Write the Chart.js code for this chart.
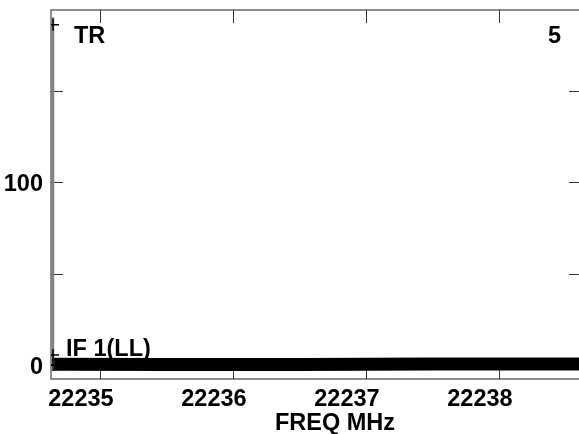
<!DOCTYPE html>
<html>
<head>
<meta charset="utf-8">
<script src="https://cdn.jsdelivr.net/npm/chart.js@4/dist/chart.umd.min.js"></script>
<style>
  body { margin: 0; overflow: hidden; background: #fff; }
  #wrap { position: relative; width: 600px; height: 434px; }
</style>
</head>
<body>
<div id="wrap"><canvas id="spec"></canvas></div>
<script>
// frequency axis (MHz) and level axis
var xTicks = [22235, 22236, 22237, 22238];
var yTicks = [0, 100];
var yMinorTicks = [0, 50, 100, 150];
var xRange = [22234.632, 22238.617];
var yRange = [-7.6, 194];

// noisy baseline, drawn as a heavy trace
var bandFreq = [22234.652, 22235.5, 22236.5, 22237.5, 22238.617];
var bandLevel = [0.4, 0.3, 0.3, 0.6, 0.6];

// spike at the start of the band
var spikeFreq = [22234.647, 22234.647];
var spikeLevel = [0, 190];

// marker crosses
var markFreq = [22234.647, 22234.647, 22234.647];
var markLevel = [186, 5.5, 0];

var FONT = "'Liberation Sans', Arial, sans-serif";
var FSIZE = 23.5;

function pts(xs, ys) {
    var out = [];
    for (var i = 0; i < xs.length; i++) out.push({ x: xs[i], y: ys[i] });
    return out;
}

var framePlugin = {
    id: 'frame',
    beforeDatasetsDraw: function (chart) {
        var ctx = chart.ctx;
        var a = chart.chartArea;
        var xs = chart.scales.x;
        var ys = chart.scales.y;
        ctx.save();

        // border
        ctx.strokeStyle = '#6a6a6a';
        ctx.lineWidth = 1.5;
        ctx.beginPath();
        ctx.moveTo(a.right, a.top);
        ctx.lineTo(a.left, a.top);
        ctx.lineTo(a.left, a.bottom);
        ctx.lineTo(a.right, a.bottom);
        ctx.stroke();

        // inward tick marks
        ctx.strokeStyle = '#333';
        ctx.lineWidth = 1;
        ctx.beginPath();
        xTicks.forEach(function (v) {
            var px = Math.round(xs.getPixelForValue(v)) + 0.5;
            ctx.moveTo(px, a.top); ctx.lineTo(px, a.top + 13);
            ctx.moveTo(px, a.bottom); ctx.lineTo(px, a.bottom - 13);
        });
        yMinorTicks.forEach(function (v) {
            var py = Math.round(ys.getPixelForValue(v)) + 0.5;
            ctx.moveTo(a.left, py); ctx.lineTo(a.left + 12, py);
            ctx.moveTo(a.right, py); ctx.lineTo(a.right - 12, py);
        });
        ctx.stroke();

        // labels inside the plot
        ctx.fillStyle = '#000';
        ctx.font = 'bold ' + FSIZE + 'px ' + FONT;
        ctx.textBaseline = 'alphabetic';
        ctx.textAlign = 'left';
        ctx.fillText('TR', 74, 43);
        ctx.fillText('5', 548, 43);
        ctx.fillText('IF 1(LL)', 66, 356);

        // axis title
        ctx.textAlign = 'center';
        ctx.fillText('FREQ MHz', 335, 430);
        ctx.restore();
    }
};

var ctx = document.getElementById('spec').getContext('2d');

var chart = new Chart(ctx, {
    type: 'line',
    data: {
        datasets: [{
            label: 'markers',
            data: pts(markFreq, markLevel),
            showLine: false,
            pointStyle: 'cross',
            pointRadius: 6,
            borderColor: '#000',
            borderWidth: 1.5,
            order: 0
        }, {
            label: 'spike',
            data: pts(spikeFreq, spikeLevel),
            borderColor: '#808080',
            borderWidth: 2.5,
            pointRadius: 0,
            order: 1
        }, {
            label: 'IF 1(LL)',
            data: pts(bandFreq, bandLevel),
            borderColor: '#000',
            borderWidth: 13,
            pointRadius: 0,
            order: 2
        }]
    },
    options: {
        responsive: true,
        maintainAspectRatio: false,
        animation: false,
        layout: { padding: { left: 0, top: 10, right: 19, bottom: 0 } },
        plugins: {
            legend: { display: false },
            tooltip: { enabled: false }
        },
        scales: {
            x: {
                type: 'linear',
                min: xRange[0],
                max: xRange[1],
                grid: { display: false, drawTicks: false },
                border: { display: false },
                afterBuildTicks: function (s) {
                    s.ticks = xTicks.map(function (v) { return { value: v }; });
                },
                afterFit: function (s) {
                    s.height = 55;
                    s.paddingLeft = 0; s.paddingRight = 0;
                },
                ticks: {
                    padding: 6,
                    labelOffset: -19,
                    maxRotation: 0,
                    color: '#000',
                    font: { family: FONT, size: FSIZE, weight: 'bold' },
                    callback: function (v) { return String(v); }
                }
            },
            y: {
                type: 'linear',
                min: yRange[0],
                max: yRange[1],
                grid: { display: false, drawTicks: false },
                border: { display: false },
                afterBuildTicks: function (s) {
                    s.ticks = yTicks.map(function (v) { return { value: v }; });
                },
                afterFit: function (s) {
                    s.width = 51;
                    s.paddingTop = 0; s.paddingBottom = 0;
                },
                ticks: {
                    padding: 8,
                    labelOffset: 2,
                    color: '#000',
                    font: { family: FONT, size: FSIZE, weight: 'bold' },
                    callback: function (v) { return String(v); }
                }
            }
        }
    },
    plugins: [framePlugin]
});
</script>
</body>
</html>
